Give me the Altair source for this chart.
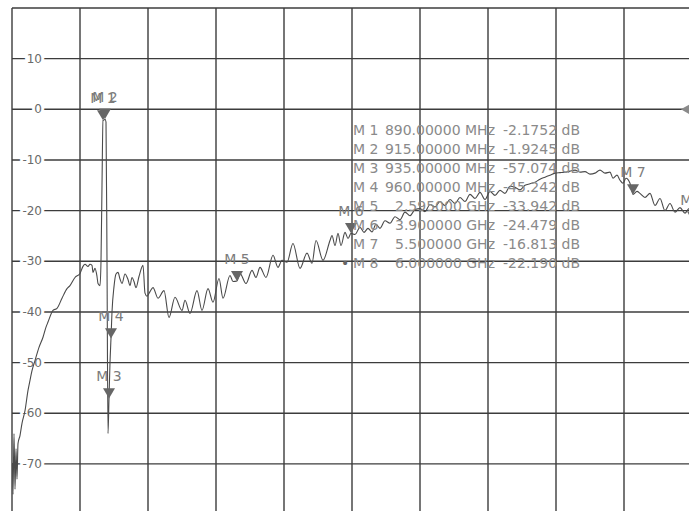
import altair as alt
import pandas as pd

# ---- trace (sweep point index, dB) ----
trace_x = [0.5, 1, 2, 3, 4, 5, 6, 8, 10, 13, 16, 18, 20, 23, 27, 31, 34, 36, 41, 45,
           50, 55, 58, 63, 68, 71, 73, 76, 78, 80, 81, 83, 85, 86, 88, 89, 90, 91, 92, 93,
           94, 95, 96, 97, 98, 99, 100, 102, 104, 106, 108, 110, 113, 116, 118, 120, 122, 124, 127, 131,
           133, 135, 138, 141, 146, 152, 157, 163, 170, 173, 178, 185, 190, 196, 201, 207, 211, 218, 221, 225,
           228, 234, 240, 244, 248, 254, 261, 266, 270, 275, 281, 288, 295, 300, 304, 311, 318, 320, 323, 326,
           329, 333, 336, 339, 343, 348, 352, 356, 360, 364, 368, 373, 378, 383, 388, 393, 398, 403, 408, 413,
           418, 423, 428, 433, 438, 443, 448, 453, 458, 463, 468, 473, 478, 483, 488, 493, 498, 503, 508, 513,
           518, 523, 528, 533, 538, 543, 548, 553, 558, 563, 568, 573, 578, 583, 588, 593, 598, 601, 605, 608,
           611, 614, 618, 621, 625, 628, 633, 638, 643, 648, 653, 658, 663, 668, 673, 677, 681]
trace_db = [-70, -76, -64, -75, -67, -73, -66, -64.4, -62, -59.5, -55.5, -53.5, -51.6, -49.6, -47, -45, -43, -42, -39.7, -39.3,
            -37.3, -35.4, -34.8, -33.2, -32.4, -31, -30.6, -31, -30.6, -30.8, -32.2, -31.4, -33, -34.4, -34.8, -30, -15, -2.2, -2.1, -1.9,
            -2.5, -30, -64, -57.1, -50, -45.2, -40, -35, -32.5, -32.2, -33.5, -34.4, -32.5, -33.6, -34.8, -33.2, -34, -35.2, -33, -30.8,
            -36.3, -36.9, -36, -35.2, -37.3, -35.8, -41.1, -37.1, -39.7, -37.7, -40.3, -35.8, -39.7, -35.4, -38.1, -33.4, -37.3, -32.8, -34, -33.9,
            -32.4, -34.4, -31.8, -33.2, -31.2, -33.2, -28.8, -31.2, -29.8, -30.2, -26.5, -31.4, -28.4, -30.4, -25.9, -29.8, -25.9, -24.9, -26.9, -24.5,
            -26.9, -24.3, -25.5, -24.5, -24.7, -23.3, -24.3, -23.5, -24.2, -22.7, -23.5, -22, -22.5, -21.2, -21.8, -20.3, -21, -19.8, -19.6, -20.2,
            -18.8, -19.3, -18.2, -19, -17.8, -18.6, -17.4, -18.2, -16.8, -17.6, -16.4, -17.8, -16.2, -17, -16, -16.6, -15.2, -15.4, -15.9, -15,
            -14.7, -14.4, -13.8, -13.4, -13, -12.6, -12.5, -12.4, -12.2, -12, -12.4, -12.3, -12.8, -12.6, -12, -12.6, -12.4, -13.6, -13, -14,
            -14.6, -13.6, -14.6, -16.8, -16.2, -16.6, -17.4, -16.6, -19, -17.6, -20, -18.6, -20.3, -19.4, -20.5, -19.6, -22.2]

# ---- markers ----
marker_names = ["M 1", "M 2", "M 3", "M 4", "M 5", "M 6", "M 7", "M 8"]
marker_x = [91, 93, 97, 99, 225, 339, 621, 681]
marker_db = [-2.1752, -1.9245, -57.074, -45.242, -33.942, -24.479, -16.813, -22.190]
marker_freq = ["890.00000 MHz", "915.00000 MHz", "935.00000 MHz", "960.00000 MHz",
               "2.595000 GHz", "3.900000 GHz", "5.500000 GHz", "6.000000 GHz"]
marker_val = ["-2.1752 dB", "-1.9245 dB", "-57.074 dB", "-45.242 dB",
              "-33.942 dB", "-24.479 dB", "-16.813 dB", "-22.190 dB"]
active_marker = "M 8"

# ---- axes / grid ----
y_ticks = [10, 0, -10, -20, -30, -40, -50, -60, -70]
y_grid = [20, 10, 0, -10, -20, -30, -40, -50, -60, -70]
x_grid = [0, 68, 136, 204, 272, 340, 408, 476, 544, 612, 680]
ref_level = [0]

Y_TOP, Y_BOT = 20, -79.3
W, H = 677, 503
PX_PER_DB = H / (Y_TOP - Y_BOT)

X = alt.Scale(domain=[0, W])
Y = alt.Scale(domain=[Y_BOT, Y_TOP])
FONT = "DejaVu Sans"

trace = pd.DataFrame({"x": trace_x, "db": trace_db, "i": range(len(trace_x))})
mk = pd.DataFrame({"name": marker_names, "x": marker_x, "db": marker_db})
rows = pd.DataFrame({
    "name": marker_names, "freq": marker_freq, "val": marker_val,
    "row_db": [Y_TOP - (123 + 19 * i) / PX_PER_DB for i in range(len(marker_names))],
})
rows["bullet"] = ["\u2022" if n == active_marker else "" for n in marker_names]
yt = pd.DataFrame({"v": y_ticks, "t": [str(v) for v in y_ticks]})

grid_color = "#3c3c3c"
vgrid = alt.Chart(pd.DataFrame({"x": x_grid})).mark_rule(color=grid_color, strokeWidth=1.4).encode(
    x=alt.X("x:Q", scale=X, axis=None))
hgrid = alt.Chart(pd.DataFrame({"y": y_grid})).mark_rule(color=grid_color, strokeWidth=1.4).encode(
    y=alt.Y("y:Q", scale=Y, axis=None))

lab_halo = alt.Chart(yt).mark_text(align="right", baseline="middle", font=FONT, fontSize=12,
                                   fill="white", stroke="white", strokeWidth=6).encode(
    x=alt.value(30), y=alt.Y("v:Q", scale=Y), text="t:N")
lab = alt.Chart(yt).mark_text(align="right", baseline="middle", font=FONT, fontSize=12,
                              color="#6a6a6a").encode(
    x=alt.value(30), y=alt.Y("v:Q", scale=Y), text="t:N")

line = alt.Chart(trace).mark_line(color="#4a4a4a", strokeWidth=1.1, interpolate="monotone").encode(
    x=alt.X("x:Q", scale=X), y=alt.Y("db:Q", scale=Y), order="i:Q")

tri = alt.Chart(mk).mark_point(shape="M-1,-1.7L1,-1.7L0,0Z", filled=True, size=144,
                               color="#666666", opacity=1).encode(
    x=alt.X("x:Q", scale=X), y=alt.Y("db:Q", scale=Y))
mlab = alt.Chart(mk).mark_text(align="center", baseline="middle", dy=-21, font=FONT,
                               fontSize=14, color="#7c7c7c").encode(
    x=alt.X("x:Q", scale=X), y=alt.Y("db:Q", scale=Y), text="name:N")

ref = alt.Chart(pd.DataFrame({"v": ref_level})).mark_point(
    shape="triangle-left", filled=True, size=90, color="#8a8a8a", opacity=1).encode(
    x=alt.value(673), y=alt.Y("v:Q", scale=Y))

tcol = "#8a8a8a"
t_name = alt.Chart(rows).mark_text(align="left", baseline="middle", font=FONT, fontSize=14,
                                   color=tcol).encode(
    x=alt.value(341), y=alt.Y("row_db:Q", scale=Y), text="name:N")
t_bul = alt.Chart(rows).mark_text(align="center", baseline="middle", font=FONT, fontSize=14,
                                  color="#666666").encode(
    x=alt.value(333), y=alt.Y("row_db:Q", scale=Y), text="bullet:N")
t_freq = alt.Chart(rows).mark_text(align="right", baseline="middle", font=FONT, fontSize=14,
                                   color=tcol).encode(
    x=alt.value(483), y=alt.Y("row_db:Q", scale=Y), text="freq:N")
t_val = alt.Chart(rows).mark_text(align="right", baseline="middle", font=FONT, fontSize=14,
                                  color=tcol).encode(
    x=alt.value(568), y=alt.Y("row_db:Q", scale=Y), text="val:N")

chart = alt.layer(vgrid, hgrid, lab_halo, lab, line, tri, mlab, ref,
                  t_bul, t_name, t_freq, t_val).properties(
    width=W, height=H,
    padding={"left": 12, "top": 8, "right": 0, "bottom": 0},
    autosize=alt.AutoSizeParams(type="none"),
    background="white",
).configure_view(stroke=None)

chart.save("out.html", embed_options={"renderer": "svg", "actions": False})
